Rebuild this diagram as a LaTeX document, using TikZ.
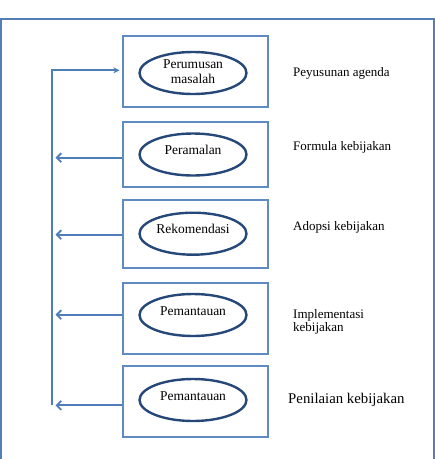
\documentclass[tikz,border=0pt]{standalone}
\usepackage{fontspec}
\setmainfont{Liberation Serif}
\usetikzlibrary{arrows.meta, shapes.geometric}
\definecolor{frameColor}{RGB}{84,126,184}
\definecolor{boxColor}{RGB}{95,138,194}
\definecolor{ellipseColor}{RGB}{38,72,120}
\definecolor{arrowBlue}{RGB}{79,125,186}
\def\colBox{195.8}
\def\colEll{193}
\def\colSpine{51.7}
\def\colTip{55.5}
\def\colKet{293}
\def\rowA{71.5}
\def\rowB{154.5}
\def\rowC{234}
\def\rowD{318.5}
\def\rowE{401.5}
\def\rowArrowA{70.3}
\def\rowArrowB{157.7}
\def\rowArrowC{234.7}
\def\rowArrowD{314.7}
\def\rowArrowE{405.3}

\begin{document}
\begin{tikzpicture}[x=1pt, y=-1pt,
    >={Straight Barb[length=4.5pt, width=9pt]},
    frameLine/.style   ={line width=1.5pt, frameColor},
    arrowIn/.style     ={-{Stealth[length=6pt, width=6pt]}, line width=1.8pt, arrowBlue, shorten >=3pt},
    arrowOut/.style    ={->, line width=1.8pt, arrowBlue},
    tahapBox/.style    ={rectangle, draw=boxColor, line width=1.8pt, minimum width=145pt,
                         inner sep=0pt, anchor=center},
    tahapEllipse/.style={ellipse, draw=ellipseColor, line width=2.4pt, minimum width=107pt,
                         minimum height=42pt, inner sep=0pt, align=center, anchor=center,
                         font=\fontsize{13.5}{15}\selectfont, text height=7pt, text depth=7pt},
    ketLabel/.style    ={anchor=base west, align=left, inner sep=0pt, font=\fontsize{13}{13.4}\selectfont},
]
\useasboundingbox (0,0) rectangle (435,459);

% =====================================================
% Outer frame (open at the bottom)
% =====================================================
\draw[frameLine] (0.8,459) -- (0.8,19) -- (434,19) -- (434,459);

% =====================================================
% Stage boxes
% =====================================================
\node[tahapBox, minimum height=71pt] (kotakA) at (\colBox,\rowA) {};
\node[tahapBox, minimum height=65pt] (kotakB) at (\colBox,\rowB) {};
\node[tahapBox, minimum height=68pt] (kotakC) at (\colBox,\rowC) {};
\node[tahapBox, minimum height=71pt] (kotakD) at (\colBox,\rowD) {};
\node[tahapBox, minimum height=71pt] (kotakE) at (\colBox,\rowE) {};

% Ellipses inside the boxes
\node[tahapEllipse, text height=23pt, text depth=2.4pt] (elipsA) at (\colEll,73) {Perumusan\\masalah};
\node[tahapEllipse] (elipsB) at (\colEll,154.5) {Peramalan};
\node[tahapEllipse] (elipsC) at (\colEll,233.7) {Rekomendasi};
\node[tahapEllipse] (elipsD) at (\colEll,315)   {Pemantauan};
\node[tahapEllipse] (elipsE) at (\colEll,400)   {Pemantauan};

% =====================================================
% Right column: policy stages
% =====================================================
\node[ketLabel] (ketA) at (\colKet,76)    {Peyusunan agenda};
\node[ketLabel] (ketB) at (\colKet,150.7) {Formula kebijakan};
\node[ketLabel] (ketC) at (\colKet,230)   {Adopsi kebijakan};
\node[ketLabel, anchor=west] (ketD) at (\colKet,322) {Implementasi\\kebijakan};
\node[ketLabel, font=\fontsize{14.8}{16}\selectfont] (ketE) at (288,403.3) {Penilaian kebijakan};

% =====================================================
% Feedback line on the left
% =====================================================
\coordinate (spineTop) at (\colSpine,\rowArrowA);
\coordinate (spineBot) at (\colSpine,\rowArrowE);
\coordinate (tipB) at (\colTip,\rowArrowB);
\coordinate (tipC) at (\colTip,\rowArrowC);
\coordinate (tipD) at (\colTip,\rowArrowD);
\coordinate (tipE) at (\colTip,\rowArrowE);

% Spine -> Perumusan masalah
\draw[arrowIn] (spineBot) -- (spineTop) -- (kotakA.west |- spineTop);

% Boxes -> spine
\draw[arrowOut] (kotakB.west |- tipB) -- (tipB);
\draw[arrowOut] (kotakC.west |- tipC) -- (tipC);
\draw[arrowOut] (kotakD.west |- tipD) -- (tipD);
\draw[arrowOut] (kotakE.west |- tipE) -- (tipE);

\end{tikzpicture}
\end{document}
